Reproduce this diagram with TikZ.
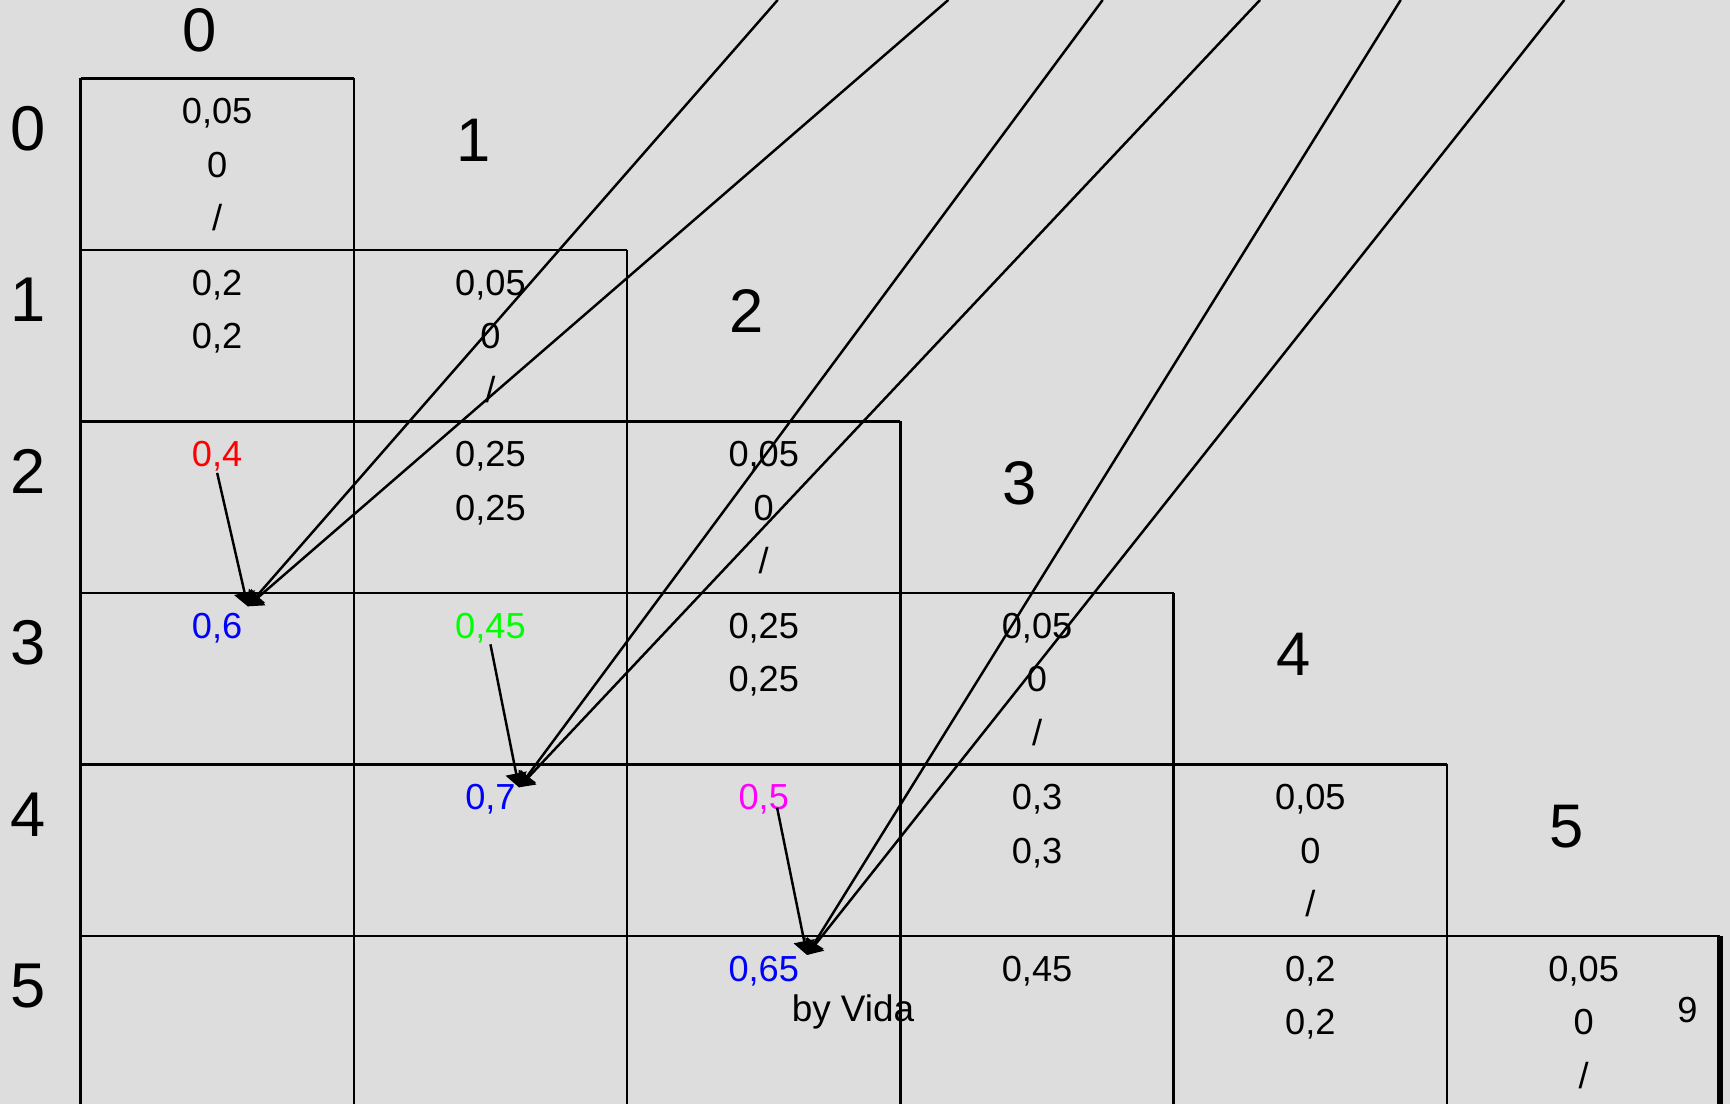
\documentclass[tikz,border=0pt]{standalone}
\usepackage{fontspec}
\setmainfont{Liberation Sans}
\usepackage{xcolor}
\usetikzlibrary{arrows.meta}
\usetikzlibrary{math}

\definecolor{bggray}{RGB}{221,221,221}
\definecolor{vred}{RGB}{255,0,0}
\definecolor{vblue}{RGB}{0,0,255}
\definecolor{vgreen}{RGB}{0,255,0}
\definecolor{vmagenta}{RGB}{255,0,255}

\begin{document}
\begin{tikzpicture}[x=0.01cm, y=-0.01cm, line width=0.7pt,
  val/.style={anchor=base, inner sep=0pt, font=\fontsize{10.3}{12}\selectfont},
  idx/.style={anchor=base, inner sep=0pt, font=\fontsize{17.5}{20}\selectfont},
  pass/.style={-{Triangle[length=4pt,width=6pt]}}]
\tikzmath{
\xo=80.5;
\yo=78.3;
\cw=273.3;
\rh=171.5;
\tp=45.7;
\ls=53.5;
}

\useasboundingbox (0,0) rectangle (1730,1104);
\fill[color=bggray] (0,0) rectangle (1730,1104);
\clip (0,0) rectangle (1730,1104);

% staircase of cells
\foreach \i in {0,...,5}
  \draw (\xo,\yo+\i*\rh) -- (\xo+\i*\cw+\cw,\yo+\i*\rh);
\draw (\xo,\yo) -- (\xo,1110);
\foreach \j in {1,...,5}
  \draw (\xo+\j*\cw,\yo+\j*\rh-\rh) -- (\xo+\j*\cw,1110);
\draw[line width=1.8pt] (\xo+6*\cw,\yo+5*\rh) -- (\xo+6*\cw,1110);

% indices
\node[idx] (col0) at (200,52) {0};
\foreach \j in {1,...,5}
  \node[idx] (col\j) at (\xo+\j*\cw+\cw/2-17,\yo+\j*\rh-\rh+83) {\j};
\foreach \i in {0,...,5}
  \node[idx, font=\fontsize{18}{20}\selectfont] (row\i) at (28,\yo+\i*\rh+72) {\i};

% diagonal
\foreach \i in {0,...,5} {
  \node[val] (diag\i-1) at (\xo+\i*\cw+\cw/2,\yo+\i*\rh+\tp) {0,05};
  \node[val] (diag\i-2) at (\xo+\i*\cw+\cw/2,\yo+\i*\rh+\tp+\ls) {0};
  \node[val] (diag\i-3) at (\xo+\i*\cw+\cw/2,\yo+\i*\rh+\tp+2*\ls) {/};
}

\node[val] (c10a) at (\xo+0.5*\cw,\yo+1*\rh+\tp) {0,2};
\node[val] (c10b) at (\xo+0.5*\cw,\yo+1*\rh+\tp+\ls) {0,2};
\node[val, vred] (c20) at (\xo+0.5*\cw,\yo+2*\rh+\tp) {0,4};
\node[val] (c21a) at (\xo+1.5*\cw,\yo+2*\rh+\tp) {0,25};
\node[val] (c21b) at (\xo+1.5*\cw,\yo+2*\rh+\tp+\ls) {0,25};
\node[val, vblue] (c30) at (\xo+0.5*\cw,\yo+3*\rh+\tp) {0,6};
\node[val, vgreen] (c31) at (\xo+1.5*\cw,\yo+3*\rh+\tp) {0,45};
\node[val] (c32a) at (\xo+2.5*\cw,\yo+3*\rh+\tp) {0,25};
\node[val] (c32b) at (\xo+2.5*\cw,\yo+3*\rh+\tp+\ls) {0,25};
\node[val, vblue] (c41) at (\xo+1.5*\cw,\yo+4*\rh+\tp) {0,7};
\node[val, vmagenta] (c42) at (\xo+2.5*\cw,\yo+4*\rh+\tp) {0,5};
\node[val] (c43a) at (\xo+3.5*\cw,\yo+4*\rh+\tp) {0,3};
\node[val] (c43b) at (\xo+3.5*\cw,\yo+4*\rh+\tp+\ls) {0,3};
\node[val, vblue] (c52) at (\xo+2.5*\cw,\yo+5*\rh+\tp) {0,65};
\node[val] (c53) at (\xo+3.5*\cw,\yo+5*\rh+\tp) {0,45};
\node[val] (c54a) at (\xo+4.5*\cw,\yo+5*\rh+\tp) {0,2};
\node[val] (c54b) at (\xo+4.5*\cw,\yo+5*\rh+\tp+\ls) {0,2};

\node[val, font=\fontsize{10.5}{12}\selectfont] (sign) at (853,1022) {by Vida};
\node[val, font=\fontsize{10.3}{12}\selectfont] (nine) at (1687.5,1022.7) {9};

% arrows
\coordinate (top1) at (777.7,0);
\coordinate (top2) at (948.3,0);
\coordinate (top3) at (1102.7,0);
\coordinate (top4) at (1260,0);
\coordinate (top5) at (1400.7,0);
\coordinate (top6) at (1564.3,0);

\draw[pass] (c20.south) -- ([xshift=8.7pt,yshift=1.6pt]c30.north);
\draw[pass] (top1) -- ([xshift=8.7pt,yshift=1.6pt]c30.north);
\draw[pass] (top2) -- ([xshift=8.7pt,yshift=1.6pt]c30.north);

\draw[pass] (c31.south) -- ([xshift=8.1pt,yshift=-1.1pt]c41.north);
\draw[pass] (top3) -- ([xshift=8.1pt,yshift=-1.1pt]c41.north);
\draw[pass] (top4) -- ([xshift=8.1pt,yshift=-1.1pt]c41.north);

\draw[pass] ([xshift=3.8pt,yshift=2.3pt]c42.south) -- ([xshift=12.3pt]c52.north);
\draw[pass] (top5) -- ([xshift=12.3pt]c52.north);
\draw[pass] (top6) -- ([xshift=12.3pt]c52.north);

\end{tikzpicture}
\end{document}
